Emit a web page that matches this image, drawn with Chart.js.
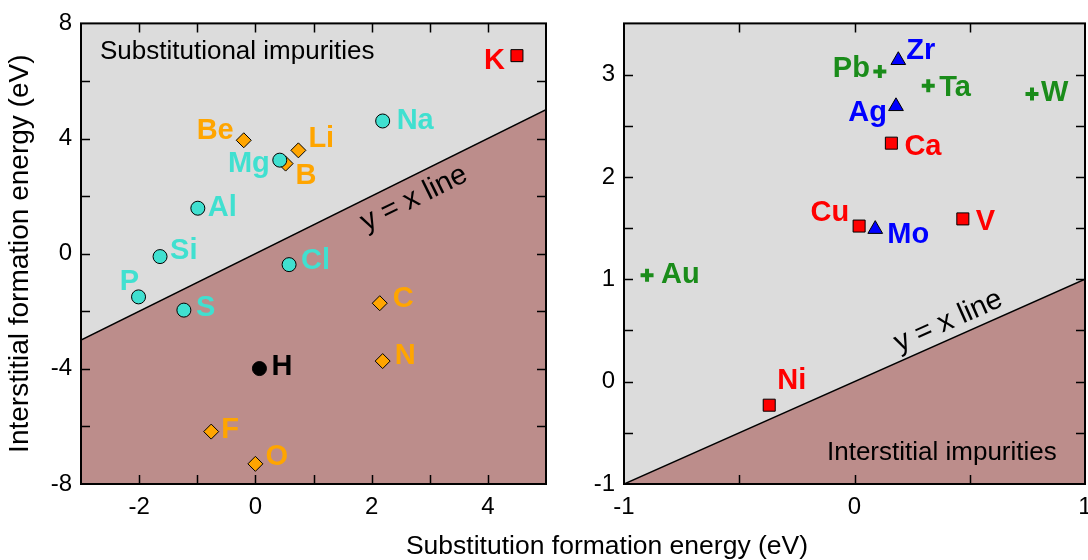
<!DOCTYPE html>
<html>
<head>
<meta charset="utf-8">
<script src="https://cdn.jsdelivr.net/npm/chart.js@4"></script>
<style>
  body { margin: 0; width: 1088px; height: 560px; overflow: hidden; background: #fff; position: relative; }
  #leftBox { position: absolute; left: 0; top: 0; }
  #rightBox { position: absolute; left: 560px; top: 0; }
  #xTitle {
    position: absolute; left: 307px; top: 530px; width: 600px; line-height: 30px;
    text-align: center; font: 26.5px "Liberation Sans", Arial, sans-serif; color: #000;
  }
</style>
</head>
<body>
<div id="leftBox"><canvas id="leftChart" width="560" height="560"></canvas></div>
<div id="rightBox"><canvas id="rightChart" width="545" height="560"></canvas></div>
<div id="xTitle">Substitution formation energy (eV)</div>
<script>
const FONT = "'Liberation Sans', Arial, Helvetica, sans-serif";

// left panel (eV): substitution energy, interstitial energy
const leftCircleNames = ["Na", "Mg", "Al", "Si", "Cl", "P", "S"];
const leftCircleSub = [2.19, 0.42, -0.99, -1.64, 0.58, -2.01, -1.23];
const leftCircleInt = [4.61, 3.25, 1.58, -0.10, -0.38, -1.50, -1.96];

const leftDiamondNames = ["Be", "Li", "B", "C", "N", "F", "O"];
const leftDiamondSub = [-0.20, 0.74, 0.52, 2.14, 2.19, -0.76, 0.00];
const leftDiamondInt = [3.94, 3.59, 3.13, -1.72, -3.73, -6.18, -7.30];

const leftSquareNames = ["K"];
const leftSquareSub = [4.50];
const leftSquareInt = [6.88];

const leftDotNames = ["H"];
const leftDotSub = [0.07];
const leftDotInt = [-3.99];

// right panel (eV)
const rightSquareNames = ["Ca", "Cu", "V", "Ni"];
const rightSquareSub = [0.16, 0.02, 0.47, -0.37];
const rightSquareInt = [2.33, 1.52, 1.59, -0.23];

const rightTriangleNames = ["Zr", "Ag", "Mo"];
const rightTriangleSub = [0.19, 0.18, 0.09];
const rightTriangleInt = [3.14, 2.69, 1.49];

const rightPlusNames = ["Pb", "Ta", "W", "Au"];
const rightPlusSub = [0.11, 0.32, 0.77, -0.90];
const rightPlusInt = [3.03, 2.89, 2.81, 1.04];

// axis ranges
const leftX = [-3, 5];
const leftY = [-8, 8];
const rightX = [-1, 1];
const rightY = [-1, 3.5];

// where each element name sits next to its marker: dx, dy, align
const labelSpots = {
  K: [-12, 5, "right"], Na: [14, 0, "left"], Be: [-10, -9, "right"], Li: [10, -11, "left"],
  Mg: [-10, 4, "right"], B: [10, 12, "left"], Al: [10, 0, "left"], Si: [10, -6, "left"],
  Cl: [12, -4, "left"], P: [-9, -15, "center"], S: [12, -2, "left"], C: [13, -4, "left"],
  N: [12, -5, "left"], H: [12, -2, "left"], F: [10, -2, "left"], O: [10, -7, "left"],
  Zr: [8, -9, "left"], Pb: [-10, -3, "right"], Ta: [11, 2, "left"], W: [9, -1, "left"],
  Ag: [-9, 7, "right"], Ca: [13, 4, "left"], Cu: [-10, -13, "right"], Mo: [12, 6, "left"],
  V: [13, 3, "left"], Au: [14, 0, "left"], Ni: [8, -24, "left"]
};

function points(xs, ys) {
  return xs.map((x, i) => ({ x: x, y: ys[i] }));
}

function markerSet(names, xs, ys, style, color, labelColor) {
  const ds = {
    data: points(xs, ys),
    names: names,
    labelColor: labelColor,
    pointStyle: style,
    pointRadius: 7,
    backgroundColor: color,
    borderColor: "#000",
    borderWidth: 1,
    order: 1
  };
  if (style === "rect") ds.pointRadius = 8.5;
  if (style === "triangle") ds.pointRadius = 8.5;
  if (style === "rectRot") ds.pointRadius = 7.5;
  if (style === "cross") {
    ds.pointRadius = 6.5;
    ds.borderColor = color;
    ds.borderWidth = 4;
  }
  return ds;
}

function diagonal(range) {
  return {
    type: "line",
    data: points(range, range),
    showLine: true,
    fill: "start",
    backgroundColor: "#bc8d8b",
    borderColor: "#000",
    borderWidth: 1.5,
    pointRadius: 0,
    order: 10
  };
}

const panelDecor = {
  id: "panelDecor",
  beforeDraw(chart) {
    const a = chart.chartArea;
    const ctx = chart.ctx;
    ctx.save();
    ctx.fillStyle = "#dcdcdc";
    ctx.fillRect(a.left, a.top, a.right - a.left, a.bottom - a.top);
    ctx.restore();
  },
  afterDatasetsDraw(chart, args, opts) {
    const a = chart.chartArea;
    const ctx = chart.ctx;
    const xs = chart.scales.x;
    const ys = chart.scales.y;
    ctx.save();

    // inward ticks on all four sides
    ctx.strokeStyle = "#000";
    ctx.lineWidth = 1.5;
    ctx.beginPath();
    xs.ticks.forEach((t) => {
      if (t.value <= xs.min || t.value >= xs.max) return;
      const px = Math.round(xs.getPixelForValue(t.value)) + 0.5;
      ctx.moveTo(px, a.bottom); ctx.lineTo(px, a.bottom - 9);
      ctx.moveTo(px, a.top); ctx.lineTo(px, a.top + 9);
    });
    ys.ticks.forEach((t) => {
      if (t.value <= ys.min || t.value >= ys.max) return;
      const py = Math.round(ys.getPixelForValue(t.value)) + 0.5;
      ctx.moveTo(a.left, py); ctx.lineTo(a.left + 9, py);
      ctx.moveTo(a.right, py); ctx.lineTo(a.right - 9, py);
    });
    ctx.stroke();
    ctx.lineWidth = 2;
    ctx.strokeRect(a.left, a.top, a.right - a.left, a.bottom - a.top);

    // "y = x line" along the diagonal
    const p1 = { x: xs.getPixelForValue(opts.lineAt), y: ys.getPixelForValue(opts.lineAt) };
    const p2 = { x: xs.getPixelForValue(opts.lineAt + 0.5), y: ys.getPixelForValue(opts.lineAt + 0.5) };
    const ang = Math.atan2(p2.y - p1.y, p2.x - p1.x);
    ctx.translate(p1.x, p1.y);
    ctx.rotate(ang);
    ctx.font = "29px " + FONT;
    ctx.fillStyle = "#000";
    ctx.textAlign = "center";
    ctx.textBaseline = "middle";
    ctx.fillText("y = x line", 0, opts.lineOffset);
    ctx.setTransform(1, 0, 0, 1, 0, 0);

    // region caption
    ctx.font = "26px " + FONT;
    ctx.textAlign = "left";
    ctx.fillText(opts.caption, a.left + opts.captionX, a.top + opts.captionY);

    // vertical axis title
    if (opts.yTitle) {
      ctx.translate(20, (a.top + a.bottom) / 2);
      ctx.rotate(-Math.PI / 2);
      ctx.textAlign = "center";
      ctx.font = "28px " + FONT;
      ctx.fillText(opts.yTitle, 0, 0);
      ctx.setTransform(1, 0, 0, 1, 0, 0);
    }

    // element names
    ctx.font = "bold 29px " + FONT;
    chart.data.datasets.forEach((ds, i) => {
      if (!ds.names) return;
      const meta = chart.getDatasetMeta(i);
      meta.data.forEach((pt, j) => {
        const spot = labelSpots[ds.names[j]];
        ctx.fillStyle = ds.labelColor;
        ctx.textAlign = spot[2];
        ctx.fillText(ds.names[j], pt.x + spot[0], pt.y + spot[1]);
      });
    });
    ctx.restore();
  }
};

function axis(range, step, labelEvery, size) {
  return {
    type: "linear",
    min: range[0],
    max: range[1],
    grid: { display: false, drawTicks: false },
    border: { display: false },
    ticks: {
      stepSize: step,
      autoSkip: false,
      maxRotation: 0,
      padding: 9,
      color: "#000",
      font: { family: FONT, size: 24 },
      callback: (v) => (Math.abs(v / labelEvery - Math.round(v / labelEvery)) < 1e-6 ? v : "")
    },
    afterFit: size
  };
}

const leftConfig = {
  type: "scatter",
  data: {
    datasets: [
      diagonal(leftX),
      markerSet(leftCircleNames, leftCircleSub, leftCircleInt, "circle", "#40e0d0", "#40e0d0"),
      markerSet(leftDiamondNames, leftDiamondSub, leftDiamondInt, "rectRot", "#ffa500", "#ffa500"),
      markerSet(leftSquareNames, leftSquareSub, leftSquareInt, "rect", "#ff0000", "#ff0000"),
      markerSet(leftDotNames, leftDotSub, leftDotInt, "circle", "#000", "#000")
    ]
  },
  options: {
    responsive: false,
    animation: false,
    events: [],
    devicePixelRatio: 1,
    layout: { padding: { top: 23, right: 14, left: 0, bottom: 0 } },
    plugins: {
      legend: { display: false },
      tooltip: { enabled: false },
      panelDecor: {
        lineAt: 2.57, lineOffset: 21,
        caption: "Substitutional impurities", captionX: 19, captionY: 28,
        yTitle: "Interstitial formation energy (eV)"
      }
    },
    scales: {
      x: axis(leftX, 1, 2, (s) => { s.height = 76; }),
      y: axis(leftY, 2, 4, (s) => { s.width = 81; })
    }
  },
  plugins: [panelDecor]
};

const rightConfig = {
  type: "scatter",
  data: {
    datasets: [
      diagonal(rightX),
      markerSet(rightSquareNames, rightSquareSub, rightSquareInt, "rect", "#ff0000", "#ff0000"),
      markerSet(rightTriangleNames, rightTriangleSub, rightTriangleInt, "triangle", "#0000ff", "#0000ff"),
      markerSet(rightPlusNames, rightPlusSub, rightPlusInt, "cross", "#1a8c1a", "#1a8c1a")
    ]
  },
  options: {
    responsive: false,
    animation: false,
    events: [],
    devicePixelRatio: 1,
    layout: { padding: { top: 23, right: 20, left: 0, bottom: 0 } },
    plugins: {
      legend: { display: false },
      tooltip: { enabled: false },
      panelDecor: {
        lineAt: 0.437, lineOffset: -17,
        caption: "Interstitial impurities", captionX: 203, captionY: 429
      }
    },
    scales: {
      x: axis(rightX, 0.5, 1, (s) => { s.height = 76; }),
      y: axis(rightY, 0.5, 1, (s) => { s.width = 64; })
    }
  },
  plugins: [panelDecor]
};

new Chart(document.getElementById("leftChart"), leftConfig);
new Chart(document.getElementById("rightChart"), rightConfig);
</script>
</body>
</html>
